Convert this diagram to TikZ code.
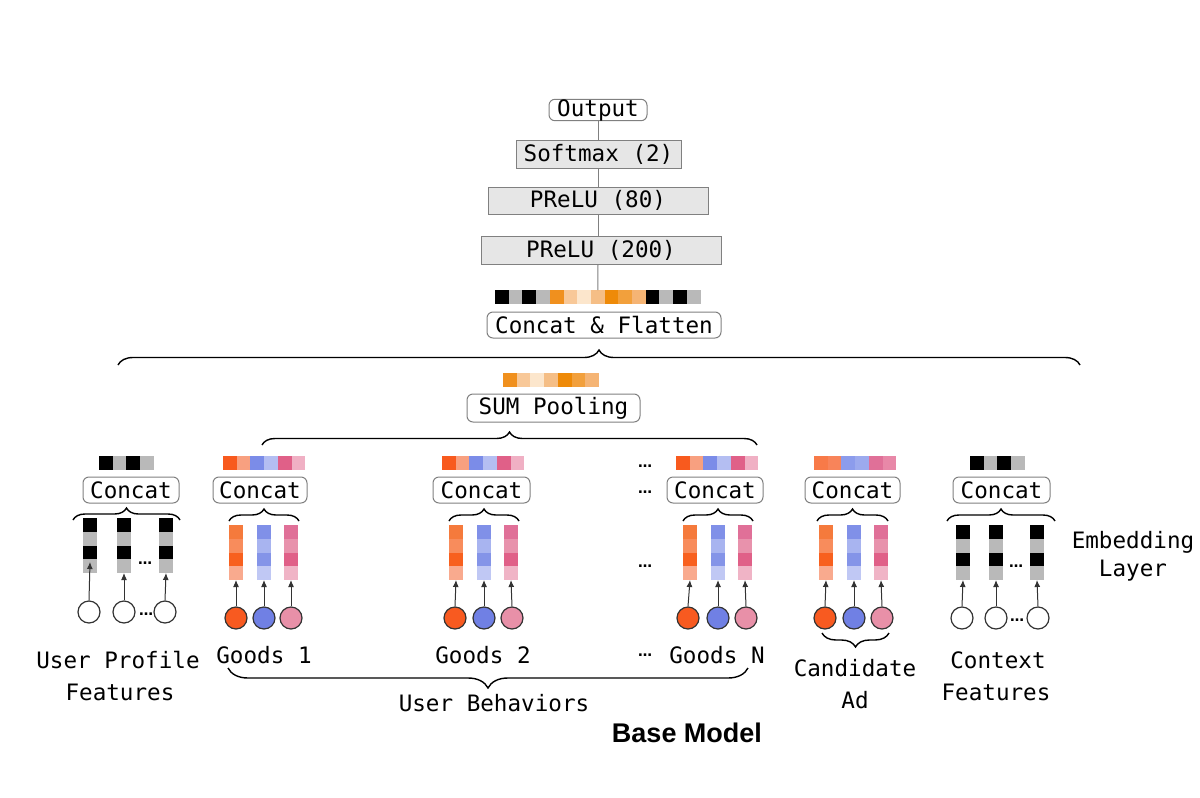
\documentclass[tikz,border=0pt]{standalone}
\usepackage{fontspec}
\setmainfont{DejaVu Sans Mono}
\newfontfamily\basefont{Liberation Sans}
\newfontfamily\dotfont{DejaVu Sans}
\usetikzlibrary{decorations.pathreplacing,arrows.meta}
\definecolor{boxgray}{HTML}{808080}
\definecolor{layergray}{HTML}{E6E6E6}
\definecolor{cblk}{HTML}{000000}
\definecolor{cgry}{HTML}{B9B9B9}
\definecolor{fo1}{HTML}{F0901E}
\definecolor{fo2}{HTML}{F8C898}
\definecolor{fo3}{HTML}{FCE6CC}
\definecolor{fo4}{HTML}{F5BE86}
\definecolor{fo5}{HTML}{EE8A08}
\definecolor{fo6}{HTML}{F2A03C}
\definecolor{fo7}{HTML}{F5B474}
\definecolor{gb1}{HTML}{F85A1E}
\definecolor{gb2}{HTML}{F8A080}
\definecolor{gb3}{HTML}{7B8CE8}
\definecolor{gb4}{HTML}{B4BEF2}
\definecolor{gb5}{HTML}{E06088}
\definecolor{gb6}{HTML}{F0B0C4}
\definecolor{ca1}{HTML}{F87A48}
\definecolor{ca2}{HTML}{F8845A}
\definecolor{ca3}{HTML}{8C9CEC}
\definecolor{ca4}{HTML}{9CAAEE}
\definecolor{ca5}{HTML}{E07098}
\definecolor{ca6}{HTML}{E888A8}
\definecolor{oc1}{HTML}{F57A3C}
\definecolor{oc2}{HTML}{F88C5C}
\definecolor{oc3}{HTML}{F8601E}
\definecolor{oc4}{HTML}{F9AA8E}
\definecolor{bc1}{HTML}{8090E8}
\definecolor{bc2}{HTML}{A8B4F0}
\definecolor{bc3}{HTML}{8494E8}
\definecolor{bc4}{HTML}{C0C8F4}
\definecolor{pc1}{HTML}{E07098}
\definecolor{pc2}{HTML}{E892AC}
\definecolor{pc3}{HTML}{E06088}
\definecolor{pc4}{HTML}{F0B4C6}
\definecolor{cir1}{HTML}{F85A20}
\definecolor{cir2}{HTML}{7080E4}
\definecolor{cir3}{HTML}{E890A8}
\definecolor{circdark}{HTML}{333333}
\newcommand\mybar[4]{%
  \foreach \c [count=\i] in {#4} {\node[cell, fill=\c, anchor=west] (#1\i) at ({#2+(\i-1)*13.7},#3) {};}}
\newcommand\mycol[4]{%
  \foreach \c [count=\i] in {#4} {\node[cell, fill=\c, minimum width=7pt, minimum height=6.875pt, anchor=north] (#1c\i) at (#2,{#3+(\i-1)*13.75}) {};}}
\begin{document}
\begin{tikzpicture}[x=0.5pt,y=-0.5pt,
  font=\fontsize{11.3}{13}\selectfont,
  rbox/.style={draw=boxgray, line width=0.5pt, rounded corners=3pt, fill=white, inner sep=0pt, minimum height=13pt},
  gbox/.style={draw=boxgray, fill=layergray, line width=0.5pt, inner sep=0pt},
  cell/.style={inner sep=0pt, outer sep=0pt, minimum width=6.85pt, minimum height=7pt, draw=none},
  emb/.style={circle, draw=circdark, line width=0.6pt, minimum size=11pt, inner sep=0pt},
  arr/.style={-{Latex[length=3.5pt,width=3pt]}, line width=0.5pt, draw=black!80},
  brc/.style={decorate, decoration={brace, amplitude=#1}, line width=0.7pt},
  brc/.default=6pt,
  lbl/.style={inner sep=0pt, anchor=base},
  dots/.style={font=\dotfont\fontsize{7}{7}\selectfont\bfseries, inner sep=0pt},
  stack/.style={draw=boxgray, line width=0.5pt}
]
\useasboundingbox (0,0) rectangle (1200,798);

% ---- top stack
\node[rbox, minimum width=49pt, minimum height=10.5pt] (out) at (598,110) {Output};
\node[gbox, minimum width=82.5pt, minimum height=14pt] (soft) at (598.5,154) {Softmax (2)};
\node[gbox, minimum width=110pt, minimum height=13.5pt] (p80) at (598,200.5) {PReLU (80)};
\node[gbox, minimum width=120pt, minimum height=14pt] (p200) at (601,250) {PReLU (200)};
\mybar{fb}{495}{297}{cblk,cgry,cblk,cgry,fo1,fo2,fo3,fo4,fo5,fo6,fo7,cblk,cgry,cblk,cgry}
\draw[stack] (out.south) -- (soft.north -| out.south);
\draw[stack] (soft.south -| out.south) -- (p80.north -| out.south);
\draw[stack] (p80.south -| out.south) -- (p200.north -| out.south);
\draw[stack] (p200.south -| out.south) -- (fb8.north);
\node[rbox, minimum width=117pt] (cf) at (604,325) {Concat \& Flatten};

% ---- big brace
\coordinate (bbL) at (118,365);
\coordinate (bbR) at (1080,365);
\draw[brc=7.5pt] (bbL) -- (bbR);

% ---- sum pooling
\mybar{sb}{503}{380}{fo1,fo2,fo3,fo4,fo5,fo6,fo7}
\node[rbox, minimum width=86.5pt, minimum height=14pt] (sum) at (553.5,408) {SUM Pooling};
\coordinate (sbL) at (262,445);
\coordinate (sbR) at (757,445);
\draw[brc=6.5pt] (sbL) -- (sbR);

% ---- bars above concat
\mybar{upb}{99}{463}{cblk,cgry,cblk,cgry}
\mybar{g1b}{223}{463}{gb1,gb2,gb3,gb4,gb5,gb6}
\mybar{g2b}{442}{463}{gb1,gb2,gb3,gb4,gb5,gb6}
\mybar{gnb}{676}{463}{gb1,gb2,gb3,gb4,gb5,gb6}
\mybar{cab}{814}{463}{ca1,ca2,ca3,ca4,ca5,ca6}
\mybar{ctb}{970}{463}{cblk,cgry,cblk,cgry}

% ---- concat boxes
\node[rbox, minimum width=48pt] (upcat) at (131,490) {Concat};
\node[rbox, minimum width=47pt] (g1cat) at (260,490) {Concat};
\node[rbox, minimum width=48.5pt] (g2cat) at (481.5,490) {Concat};
\node[rbox, minimum width=48pt] (gncat) at (715,490) {Concat};
\node[rbox, minimum width=47.5pt] (cacat) at (852.5,490) {Concat};
\node[rbox, minimum width=48.5pt] (ctcat) at (1001.5,490) {Concat};

% ---- braces under concat
\coordinate (upbrL) at (73,520);  \coordinate (upbrR) at (180,520);
\coordinate (g1brL) at (229,521); \coordinate (g1brR) at (299,521);
\coordinate (g2brL) at (449,521); \coordinate (g2brR) at (519,521);
\coordinate (gnbrL) at (683,521); \coordinate (gnbrR) at (753,521);
\coordinate (cabrL) at (817,521); \coordinate (cabrR) at (888,521);
\coordinate (ctbrL) at (947,521); \coordinate (ctbrR) at (1055,521);
\draw[brc] (upbrL) -- (upbrR);
\draw[brc] (g1brL) -- (g1brR);
\draw[brc] (g2brL) -- (g2brR);
\draw[brc] (gnbrL) -- (gnbrR);
\draw[brc] (cabrL) -- (cabrR);
\draw[brc] (ctbrL) -- (ctbrR);

% ---- embedding columns
\mycol{upk1}{90}{518}{cblk,cgry,cblk,cgry}
\mycol{upk2}{124}{518}{cblk,cgry,cblk,cgry}
\mycol{upk3}{166}{518}{cblk,cgry,cblk,cgry}
\mycol{g1k1}{236}{525}{oc1,oc2,oc3,oc4}
\mycol{g1k2}{264}{525}{bc1,bc2,bc3,bc4}
\mycol{g1k3}{291}{525}{pc1,pc2,pc3,pc4}
\mycol{g2k1}{456}{525}{oc1,oc2,oc3,oc4}
\mycol{g2k2}{484}{525}{bc1,bc2,bc3,bc4}
\mycol{g2k3}{511}{525}{pc1,pc2,pc3,pc4}
\mycol{gnk1}{690}{525}{oc1,oc2,oc3,oc4}
\mycol{gnk2}{718}{525}{bc1,bc2,bc3,bc4}
\mycol{gnk3}{745}{525}{pc1,pc2,pc3,pc4}
\mycol{cak1}{826}{525}{oc1,oc2,oc3,oc4}
\mycol{cak2}{854}{525}{bc1,bc2,bc3,bc4}
\mycol{cak3}{881}{525}{pc1,pc2,pc3,pc4}
\mycol{ctk1}{963}{525}{cblk,cgry,cblk,cgry}
\mycol{ctk2}{996}{525}{cblk,cgry,cblk,cgry}
\mycol{ctk3}{1037}{525}{cblk,cgry,cblk,cgry}

% ---- feature circles
\node[emb, fill=white] (upc1) at (89,612) {};
\node[emb, fill=white] (upc2) at (124,612) {};
\node[emb, fill=white] (upc3) at (165,612) {};
\node[emb, fill=cir1] (g1c1) at (236,618) {};
\node[emb, fill=cir2] (g1c2) at (264,618) {};
\node[emb, fill=cir3] (g1c3) at (291,618) {};
\node[emb, fill=cir1] (g2c1) at (455,618) {};
\node[emb, fill=cir2] (g2c2) at (484,618) {};
\node[emb, fill=cir3] (g2c3) at (512,618) {};
\node[emb, fill=cir1] (gnc1) at (688,618) {};
\node[emb, fill=cir2] (gnc2) at (718,618) {};
\node[emb, fill=cir3] (gnc3) at (746,618) {};
\node[emb, fill=cir1] (cac1) at (825,618) {};
\node[emb, fill=cir2] (cac2) at (854,618) {};
\node[emb, fill=cir3] (cac3) at (882,618) {};
\node[emb, fill=white] (ctc1) at (962,618) {};
\node[emb, fill=white] (ctc2) at (996,618) {};
\node[emb, fill=white] (ctc3) at (1038,618) {};

% ---- arrows
\draw[arr] (upc1.north) -- ([yshift=5.5pt]upk1c4.south);
\draw[arr] (upc2.north) -- (upk2c4.south);
\draw[arr] (upc3.north) -- (upk3c4.south);
\foreach \g in {g1,g2,gn,ca,ct}{
  \foreach \k in {1,2,3}{
    \draw[arr] (\g c\k.north) -- (\g k\k c4.south);
  }
}

% ---- dots
\node[dots] (updA) at (145,563) {…};
\node[dots] (updB) at (146,614) {…};
\node[dots] (ctdA) at (1016,566) {…};
\node[dots] (ctdB) at (1017,620) {…};
\node[dots] (gndA) at (645,466) {…};
\node[dots] (gndB) at (645,492) {…};
\node[dots] (gndC) at (645,566) {…};
\node[dots] (gndD) at (645,655) {…};

% ---- candidate brace
\coordinate (cadL) at (822,633);
\coordinate (cadR) at (889,633);
\draw[brc=7pt] (cadR) -- (cadL);

% ---- labels
\node[lbl] (upl1) at (118,668) {User Profile};
\node[lbl] (upl2) at (120,700) {Features};
\node[lbl] (g1l) at (264,663) {Goods 1};
\node[lbl] (g2l) at (483,663) {Goods 2};
\node[lbl] (gnl) at (717,663) {Goods N};
\node[lbl] (cal1) at (855,676) {Candidate};
\node[lbl] (cal2) at (855,708) {Ad};
\node[lbl] (ctl1) at (998,668) {Context};
\node[lbl] (ctl2) at (996,700) {Features};
\node[lbl] (eml1) at (1133,548) {Embedding};
\node[lbl] (eml2) at (1133,576) {Layer};

% ---- user behaviors brace
\coordinate (ubL) at (228,668);
\coordinate (ubR) at (748,668);
\draw[brc=10pt] (ubR) -- (ubL);
\node[lbl] (ubl) at (494,711) {User Behaviors};
\node[lbl] (bm) at (687,742) {\basefont\bfseries\fontsize{13.5}{16}\selectfont Base Model};
\end{tikzpicture}
\end{document}
